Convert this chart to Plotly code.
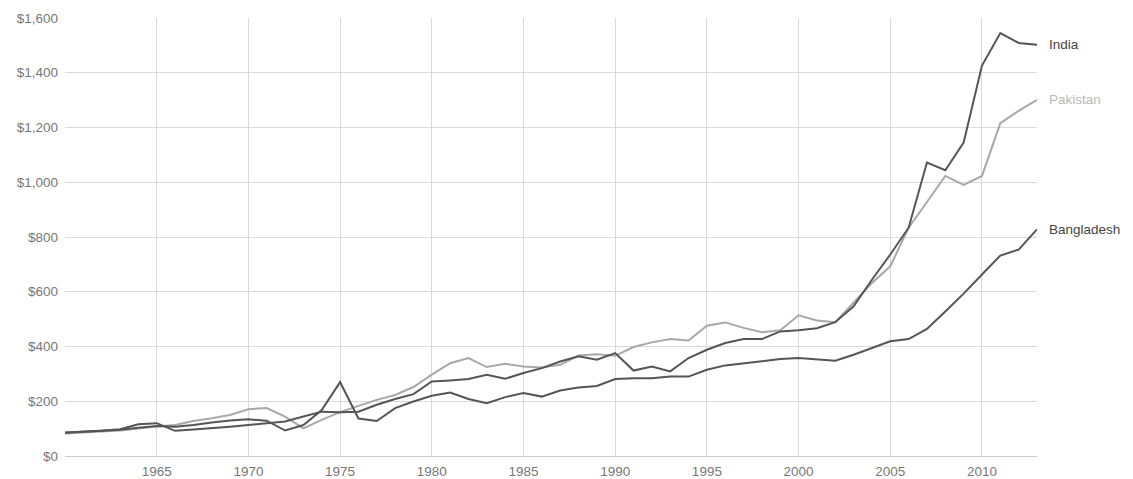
import plotly.graph_objects as go

years = list(range(1960, 2014))

india = [85, 88, 92, 98, 116, 120, 92, 97, 101, 107,
         113, 120, 126, 144, 162, 160, 162, 187, 208, 226,
         272, 276, 281, 297, 282, 303, 321, 345, 364, 352,
         376, 312, 327, 309, 358, 388, 413, 427, 427, 455,
         459, 467, 489, 547, 644, 736, 834, 1072, 1044, 1145,
         1426, 1545, 1509, 1502]

pakistan = [82, 86, 90, 93, 100, 108, 113, 128, 138, 150,
            171, 175, 144, 101, 132, 160, 183, 205, 223, 252,
            297, 339, 358, 325, 337, 327, 323, 333, 367, 372,
            366, 398, 415, 427, 422, 476, 488, 468, 452, 459,
            514, 495, 489, 559, 632, 693, 834, 928, 1023, 990,
            1023, 1216, 1261, 1301]

bangladesh = [86, 90, 93, 96, 103, 110, 107, 113, 122, 130,
              134, 129, 93, 113, 168, 270, 137, 128, 175, 199,
              220, 232, 208, 193, 215, 230, 217, 239, 250, 256,
              281, 284, 284, 290, 290, 315, 331, 339, 348, 354,
              358, 352, 348, 370, 394, 419, 427, 464, 528, 593,
              663, 732, 754, 828]

series = [
    ("Pakistan", pakistan, "#a8a8a8", "#b8b8b8"),
    ("Bangladesh", bangladesh, "#555555", "#444444"),
    ("India", india, "#555555", "#444444"),
]

x_ticks = list(range(1965, 2011, 5))
y_ticks = list(range(0, 1601, 200))
y_tick_text = ["$" + format(v, ",") for v in y_ticks]

FONT = "Liberation Sans, Arial, sans-serif"
TICK_FONT = dict(size=13.5, color="#777777", family=FONT)

fig = go.Figure()
for name, vals, color, label_color in series:
    fig.add_trace(go.Scatter(x=years, y=vals, mode="lines", name=name,
                             line=dict(color=color, width=2)))
    fig.add_annotation(x=years[-1], y=vals[-1], text=name, showarrow=False,
                       xanchor="left", yanchor="middle", xshift=10,
                       font=dict(color=label_color, size=13.5, family=FONT))

fig.update_layout(
    width=1133, height=479,
    margin=dict(l=57, r=104, t=10, b=31),
    paper_bgcolor="white", plot_bgcolor="white",
    showlegend=False,
    font=dict(family=FONT, size=13.5, color="#777777"),
    xaxis=dict(range=[1960, 2013], tickvals=x_ticks, showgrid=True,
               gridcolor="#d9d9d9", gridwidth=1, showline=True,
               linecolor="#cccccc", zeroline=False, ticks="",
               automargin=False, ticklabelstandoff=3,
               tickfont=TICK_FONT),
    yaxis=dict(range=[0, 1600], tickvals=y_ticks, ticktext=y_tick_text,
               showgrid=True, gridcolor="#d9d9d9", gridwidth=1, zeroline=False,
               showline=False, ticks="", ticklabelstandoff=6, automargin=False,
               tickfont=TICK_FONT),
)

fig.write_html("out.html")
